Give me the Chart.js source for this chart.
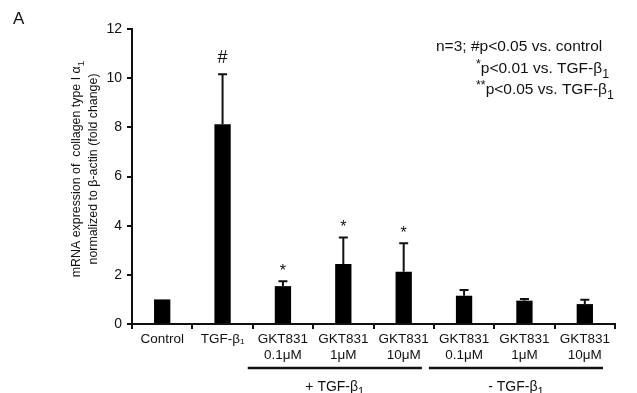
<!DOCTYPE html>
<html><head><meta charset="utf-8">
<script src="https://cdn.jsdelivr.net/npm/chart.js@4.4.0/dist/chart.umd.min.js"></script>
<style>html,body{margin:0;padding:0;background:#fff}#wrap{width:637px;height:393px;position:relative}</style>
</head><body><div id="wrap"><canvas id="c" width="637" height="393"></canvas></div>
<script>
const categories = [["Control"],["TGF-β₁"],["GKT831","0.1μM"],["GKT831","1μM"],["GKT831","10μM"],["GKT831","0.1μM"],["GKT831","1μM"],["GKT831","10μM"]];
const means = [1.0, 8.13, 1.54, 2.44, 2.13, 1.15, 0.95, 0.81];
const errors = [0.0, 2.03, 0.2, 1.08, 1.15, 0.23, 0.07, 0.18];
const marks = ["", "#", "*", "*", "*", "", "", ""];
const yTicks = [0, 2, 4, 6, 8, 10, 12];
const groups = [{label:"+ TGF-β", from:2, to:4}, {label:"- TGF-β", from:5, to:7}];

const FONT = "'Liberation Sans', Arial, sans-serif";
const INK = "#111";

function rich(ctx, parts, x, y, align, size) {
  let w = 0;
  const sizes = parts.map(p => p[1] ? size*0.8 : size);
  parts.forEach((p,i)=>{ctx.font = sizes[i]+"px "+FONT; w += ctx.measureText(p[0]).width;});
  let cx = align === "center" ? x - w/2 : (align === "right" ? x - w : x);
  ctx.textAlign = "left"; ctx.textBaseline = "alphabetic";
  parts.forEach((p,i)=>{
    ctx.font = sizes[i]+"px "+FONT;
    let dy = p[1]===1 ? size*0.3 : (p[1]===2 ? -size*0.35 : 0);
    ctx.fillText(p[0], cx, y+dy);
    cx += ctx.measureText(p[0]).width;
  });
}

const extras = {
  id: "extras",
  afterDatasetsDraw(chart) {
    const {ctx, scales:{x, y}} = chart;
    ctx.save();
    ctx.strokeStyle = INK; ctx.fillStyle = INK; ctx.lineWidth = 2;
    means.forEach((m,i)=>{
      if (!errors[i]) return;
      const px = x.getPixelForValue(i);
      const y0 = y.getPixelForValue(m), y1 = y.getPixelForValue(m+errors[i]);
      ctx.beginPath(); ctx.moveTo(px, y0); ctx.lineTo(px, y1);
      ctx.moveTo(px-4.5, y1); ctx.lineTo(px+4.5, y1); ctx.stroke();
    });
    ctx.textAlign = "center"; ctx.textBaseline = "middle";
    marks.forEach((s,i)=>{
      if (!s) return;
      const px = x.getPixelForValue(i);
      const top = y.getPixelForValue(means[i]+errors[i]);
      if (s === "#") { ctx.font = "18px "+FONT; ctx.fillText(s, px, top-16); }
      else { ctx.font = "16px "+FONT; ctx.fillText(s, px, top-10); }
    });
    const half = (x.getPixelForValue(1)-x.getPixelForValue(0))/2;
    ctx.lineWidth = 2.5;
    groups.forEach(g=>{
      const a = x.getPixelForValue(g.from)-half-5, b = x.getPixelForValue(g.to)+half-12;
      ctx.beginPath(); ctx.moveTo(a, 368); ctx.lineTo(b, 368); ctx.stroke();
      rich(ctx, [[g.label,0],["1",1]], (a+b)/2, 391, "center", 14);
    });
    ctx.save();
    ctx.translate(80, 169); ctx.rotate(-Math.PI/2);
    rich(ctx, [["mRNA expression of  collagen type I α",0],["1",1]], 0, 0, "center", 12.4);
    rich(ctx, [["normalized to β-actin (fold change)",0]], 0, 16.5, "center", 12.4);
    ctx.restore();
    rich(ctx, [["n=3; #p<0.05 vs. control",0]], 436, 51, "left", 15.5);
    rich(ctx, [["*",2],["p<0.01 vs. TGF-β",0],["1",1]], 476, 73, "left", 15.5);
    rich(ctx, [["**",2],["p<0.05 vs. TGF-β",0],["1",1]], 476, 94, "left", 15.5);
    ctx.font = "17px "+FONT; ctx.textAlign = "left"; ctx.textBaseline = "alphabetic";
    ctx.fillText("A", 13, 24);
    ctx.restore();
  }
};

new Chart(document.getElementById("c"), {
  type: "bar",
  data: { labels: categories, datasets: [{ data: means, backgroundColor: "#000", borderWidth: 0,
    barPercentage: 0.27, categoryPercentage: 1.0 }] },
  options: {
    responsive: false, animation: false,
    layout: { padding: { left: 0, right: 22, top: 29, bottom: 0 } },
    plugins: { legend: { display: false }, tooltip: { enabled: false } },
    scales: {
      x: {
        offset: true,
        grid: { offset: true, drawOnChartArea: false, drawTicks: true, tickLength: 5, color: INK, lineWidth: 2 },
        border: { color: INK, width: 2 },
        ticks: { color: INK, font: { family: FONT, size: 13.5 }, padding: 2, maxRotation: 0, autoSkip: false },
        afterFit(s) { s.height = 69; }
      },
      y: {
        min: 0, max: 12,
        grid: { drawOnChartArea: false, drawTicks: true, tickLength: 5, color: INK, lineWidth: 2 },
        border: { color: INK, width: 2 },
        afterBuildTicks(s) { s.ticks = yTicks.map(v => ({ value: v })); },
        ticks: { color: INK, font: { family: FONT, size: 14 }, padding: 5 },
        afterFit(s) { s.width = 132; }
      }
    }
  },
  plugins: [extras]
});
</script></body></html>
